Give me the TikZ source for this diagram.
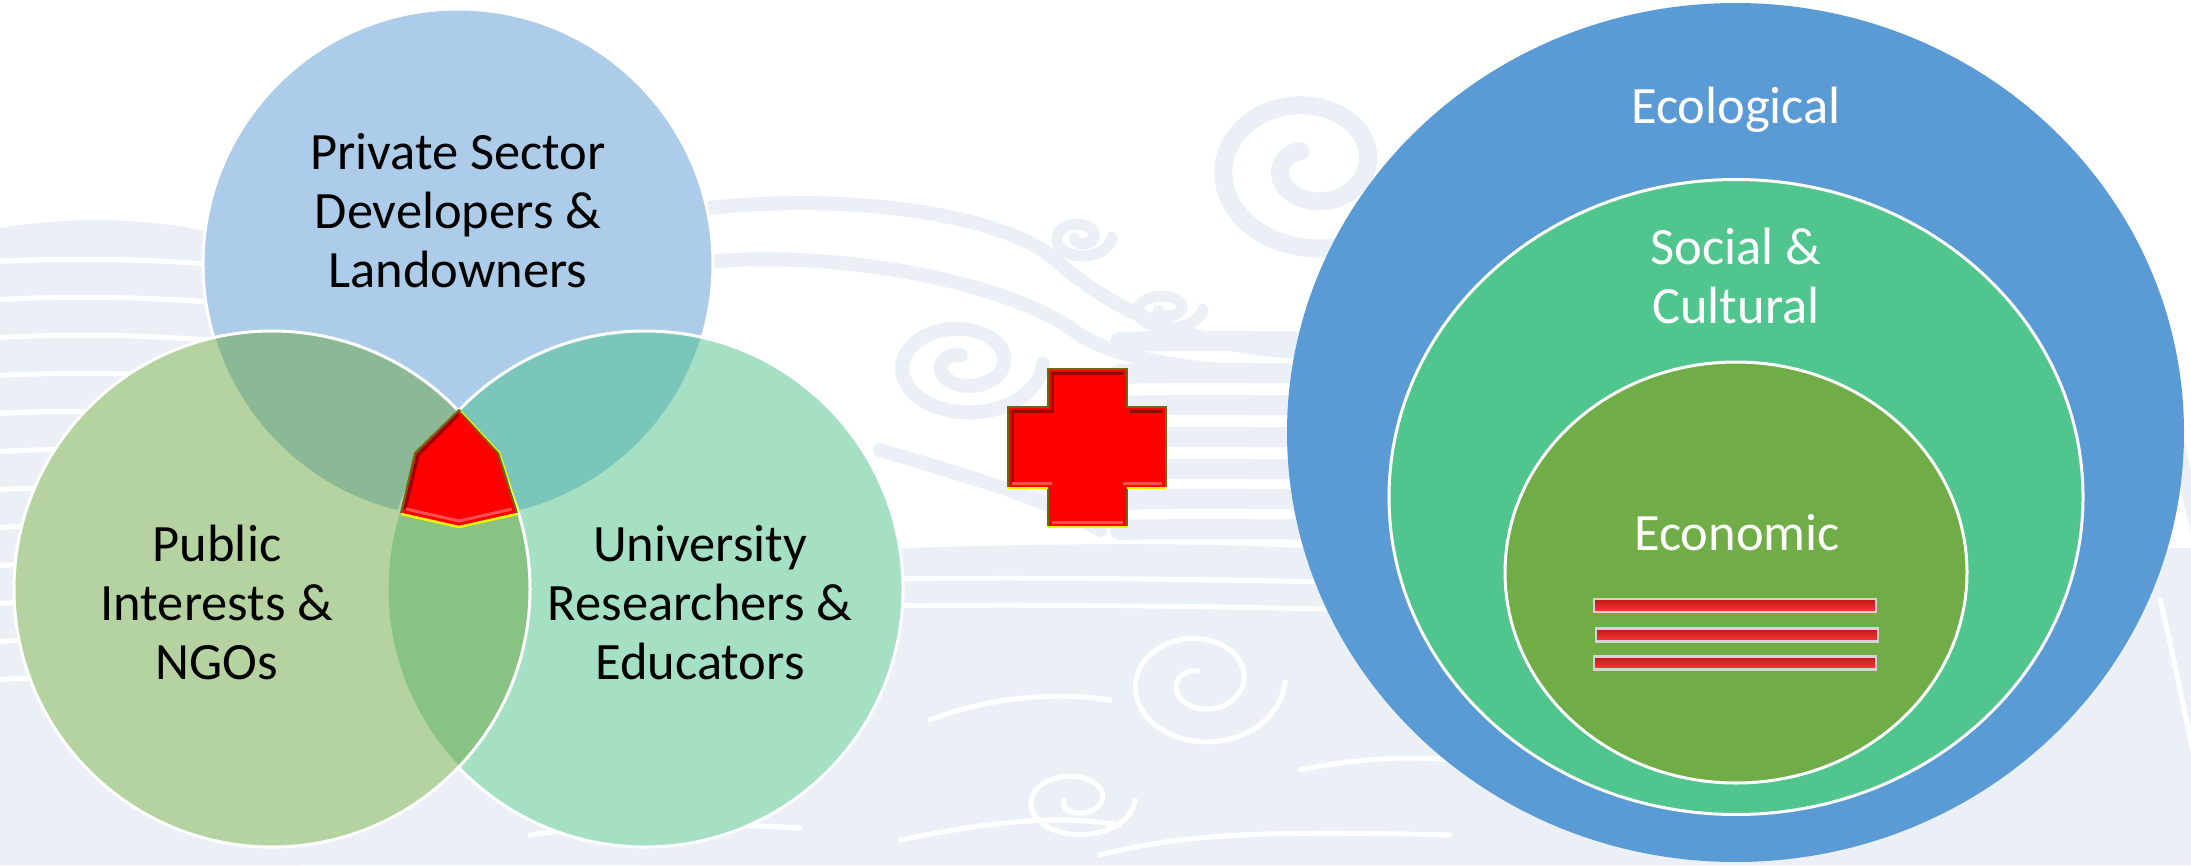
\documentclass[tikz,border=0pt]{standalone}
\usepackage{fontspec}
\setmainfont{Carlito}
\usetikzlibrary{shapes.geometric}
\definecolor{bgswirl}{HTML}{EAF0F6}
\definecolor{topc}{HTML}{5B9BD5}
\definecolor{leftc}{HTML}{6CA842}
\definecolor{rightc}{HTML}{4CC28C}
\definecolor{ecolc}{HTML}{5B9BD5}
\definecolor{socc}{HTML}{50C58D}
\definecolor{econc}{HTML}{70AD47}
\definecolor{bevoliv}{HTML}{6E6A10}
\definecolor{bevdark}{HTML}{9A0000}
\definecolor{bevlight}{HTML}{FF5050}
\definecolor{bevyel}{HTML}{FFF200}
\definecolor{barrim}{HTML}{D4D4D4}
\definecolor{bartop}{HTML}{C01818}
\definecolor{barbot}{HTML}{FF3838}
\newcommand\bgspiral[6]{%
  \draw[#1] plot[domain=0:#6,samples=90,smooth,variable=\t]
   ({#2+#4*(1-\t/(#6+120))*cos(\t)},{#3+#5*(1-\t/(#6+120))*sin(\t)});}
\begin{document}
\begin{tikzpicture}[x=1pt,y=-1pt,
  swirl/.style={draw=bgswirl,line width=16pt,line cap=round},
  gap/.style={draw=white,line width=5pt,line cap=round},
  venn/.style={circle,minimum size=#1,inner sep=0pt,fill opacity=0.5,draw=white,draw opacity=1,line width=3pt},
  ring/.style={ellipse,inner sep=0pt},
  lbl/.style={align=center,inner sep=0pt,font=\fontsize{52.5}{59}\selectfont,text=black},
  wlbl/.style={lbl,text=white},
  eqbar/.style={rectangle,draw=barrim,line width=2.5pt,top color=bartop,bottom color=barbot,minimum width=282pt,minimum height=13pt,inner sep=0pt},
]
\fill[white] (0,0) rectangle (2191,865);
\useasboundingbox (0,0) rectangle (2191,865);

% ---------- background swirls ----------
\fill[bgswirl] (0,228) .. controls (80,215) and (170,218) .. (240,240) -- (300,865) -- (0,865) -- cycle;
\foreach \yy in {262,300,338,376,414,452,490,528,566,604,642,680,718,756,794,832}
  \draw[gap] (-10,\yy) .. controls (90,\yy-6) and (190,\yy-2) .. (290,\yy+10);
\fill[bgswirl] (0,700) -- (640,700) -- (640,865) -- (0,865) -- cycle;
\fill[bgswirl] (640,560) .. controls (900,545) and (1150,540) .. (1300,548) -- (2191,548) -- (2191,865) -- (640,865) -- cycle;
\foreach \yy in {585,612}
  \draw[gap] (640,\yy) .. controls (900,\yy-10) and (1150,\yy-8) .. (1450,\yy);
\bgspiral{gap}{1200}{682}{85}{68}{620}
\bgspiral{gap}{1075}{800}{60}{40}{540}
\draw[gap] (930,720) .. controls (980,700) and (1050,690) .. (1110,700);
\draw[gap] (900,840) .. controls (1000,820) and (1060,815) .. (1120,825);
\draw[gap] (1100,855) .. controls (1180,835) and (1250,830) .. (1450,835);
\draw[gap] (1300,770) .. controls (1350,760) and (1400,755) .. (1450,760);
\draw[gap] (530,835) .. controls (600,825) and (700,822) .. (800,828);
\draw[gap] (2160,600) .. controls (2175,660) and (2185,720) .. (2200,780);
\foreach \yy in {342,374,406,438,470,500,530}
  \draw[swirl,line width=20pt] (1120,\yy) .. controls (1180,\yy-2) and (1240,\yy-1) .. (1400,\yy);
\bgspiral{swirl,line width=14pt}{963}{364}{80}{55}{620}
\bgspiral{swirl,line width=11pt}{1080}{237}{32}{22}{520}
\bgspiral{swirl,line width=11pt}{1165}{309}{38}{22}{520}
\bgspiral{swirl,line width=18pt}{1310}{165}{115}{95}{600}
\draw[swirl,line width=14pt] (660,215) .. controls (800,190) and (980,205) .. (1050,255) .. controls (1100,300) and (1170,345) .. (1300,352);
\draw[swirl,line width=14pt] (680,265) .. controls (820,245) and (1010,280) .. (1080,335) .. controls (1120,360) and (1200,372) .. (1300,375);
\draw[swirl,line width=14pt] (880,450) .. controls (980,480) and (1050,500) .. (1100,530);
\draw[swirl,line width=14pt] (2150,330) .. controls (2170,400) and (2180,460) .. (2200,540);

% ---------- Venn diagram ----------
\fill[white] (458,264) circle (255pt);
\fill[white] (645,589) circle (258pt);
\fill[white] (272,589) circle (258pt);
\node[venn=510pt,fill=topc] (private) at (458,264) {};
\node[venn=516pt,fill=rightc] (university) at (645,589) {};
\node[venn=516pt,fill=leftc] (public) at (272,589) {};

% central red shape
\fill[red] (459,410) -- (498,453) -- (517,513) -- (459,526) -- (401,513) -- (415,453) -- cycle;
\draw[bevdark,line width=3pt,line join=round] (405,509) -- (418,455) -- (459,414);
\draw[bevlight,line width=3pt] (406,509) -- (459,521) -- (512,509);
\draw[bevoliv,line width=2pt,line join=round] (401,513) -- (415,453) -- (459,410) -- (498,453) -- (517,513);
\draw[bevyel,line width=1pt] (461,411) -- (500,453) -- (519,512);
\draw[bevyel,line width=2.5pt] (401,514) -- (459,527) -- (517,514);

\node[lbl,anchor=base] (tprivate) at (458,287) {Private Sector\\Developers \&\\Landowners};
\node[lbl,anchor=base] (tpublic) at (217,679) {Public\\Interests \&\\NGOs};
\node[lbl,anchor=base] (tuniv) at (700,679) {University\\Researchers \&\\Educators};

% ---------- plus sign ----------
\fill[red] (1048,369) -- (1127,369) -- (1127,407) -- (1166,407) -- (1166,487) -- (1127,487) -- (1127,526) -- (1048,526) -- (1048,487) -- (1008,487) -- (1008,407) -- (1048,407) -- cycle;
\draw[bevdark,line width=3pt] (1012,484) -- (1012,411) -- (1052,411) -- (1052,373) -- (1123,373);
\draw[bevdark,line width=3pt] (1130,411) -- (1162,411);
\draw[bevlight,line width=3pt] (1012,483) -- (1052,483);
\draw[bevlight,line width=3pt] (1123,483) -- (1162,483);
\draw[bevlight,line width=3pt] (1052,522) -- (1123,522);
\draw[bevoliv,line width=2pt] (1008,487) -- (1008,407) -- (1048,407) -- (1048,369) -- (1127,369) -- (1127,407) -- (1166,407) -- (1166,487);
\draw[bevoliv,line width=2pt] (1048,487) -- (1048,526);
\draw[bevoliv,line width=2pt] (1127,487) -- (1127,526);
\draw[bevyel,line width=2.5pt] (1008,488) -- (1048,488);
\draw[bevyel,line width=2.5pt] (1127,488) -- (1166,488);
\draw[bevyel,line width=2.5pt] (1048,527) -- (1127,527);

% ---------- nested ellipses ----------
\node[ring,fill=ecolc,minimum width=897pt,minimum height=859pt] (ecological) at (1735.5,432.5) {};
\node[ring,fill=socc,draw=white,line width=3pt,minimum width=694pt,minimum height=635pt] (social) at (1736,497) {};
\node[ring,fill=econc,draw=white,line width=3pt,minimum width=462pt,minimum height=421pt] (economic) at (1736,572.5) {};

\node[wlbl,anchor=base] (tecol) at (1736,123) {Ecological};
\node[wlbl,anchor=base] (tsoc) at (1736,323) {Social \&\\Cultural};
\node[wlbl,anchor=base] (tecon) at (1737,550) {Economic};

\node[eqbar] (eqa) at (1735,605.5) {};
\node[eqbar] (eqb) at (1737,635) {};
\node[eqbar] (eqc) at (1735,663) {};
\end{tikzpicture}
\end{document}
